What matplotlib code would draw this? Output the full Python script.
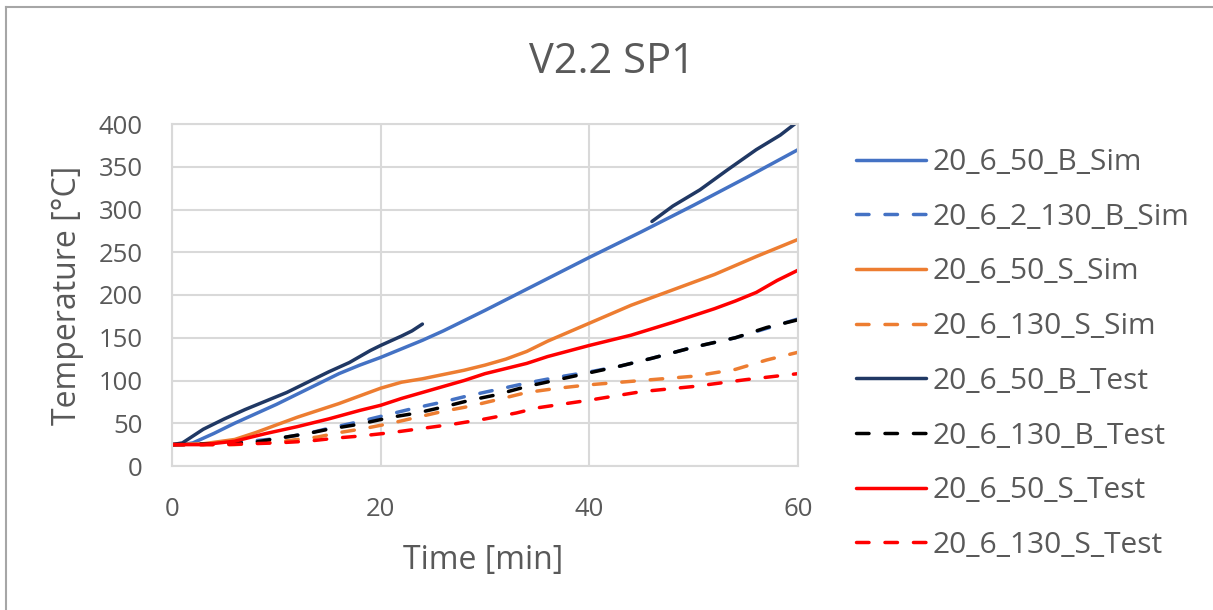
import numpy as np
import matplotlib
matplotlib.use("Agg")
import matplotlib.pyplot as plt
from matplotlib.lines import Line2D

plt.rcParams["font.family"] = ["Open Sans", "DejaVu Sans"]

# ---- data: time [min] and temperature [°C] per series ----
t_b50_sim = [0, 1, 2, 4, 6, 8, 10, 12, 14, 16, 18, 20, 22, 24, 26, 28, 30, 35, 40, 45, 50, 55, 60]
T_b50_sim = [25, 25, 27, 38, 50, 61, 72, 84, 96, 108, 118, 127, 137, 147, 158, 170, 182, 213, 244, 274, 305, 337, 370]

t_b130_sim = [0, 5, 10, 13, 15, 18, 20, 23, 26, 28, 31, 34, 37, 40, 43, 46, 50, 54, 57, 60]
T_b130_sim = [25, 26, 32, 38, 44, 52, 58, 67, 75, 81, 89, 97, 104, 110, 117, 126, 139, 150, 161, 172]

t_s50_sim = [0, 3, 6, 8, 10, 12, 14, 16, 18, 20, 22, 24, 26, 28, 30, 32, 34, 36, 40, 44, 48, 52, 56, 60]
T_s50_sim = [25, 26, 31, 39, 48, 57, 65, 73, 82, 91, 98, 102, 107, 112, 118, 125, 134, 146, 167, 188, 206, 224, 245, 265]

t_s130_sim = [0, 6, 10, 14, 16, 18.5, 21, 23.5, 26, 28.6, 31, 34, 37, 40, 45, 50, 54, 57, 60]
T_s130_sim = [25, 25, 28, 34, 39, 44, 50, 57, 64, 70, 77, 86, 91, 95, 100, 105, 113, 124, 133]

# test curve is recorded in two pieces; NaN marks the gap
t_b50_test = [0, 1, 2, 3, 5, 7, 9, 11, 13, 15, 17, 19, 20, 22, 23, 24,
              np.nan, 46, 48, 50.6, 53.2, 56, 58.3, 60]
T_b50_test = [25, 27, 35, 43, 55, 66, 76, 86, 98, 110, 121, 135, 141, 152, 158, 166,
              np.nan, 286, 304, 323, 346, 370, 387, 403]

t_b130_test = [0, 5, 8, 10, 13, 15, 18, 21, 23.5, 26, 28.6, 31, 34, 37, 40, 43, 46, 50, 54, 57, 60]
T_b130_test = [25, 26, 28, 32, 38, 43, 49, 57, 62, 69, 77, 83, 93, 101, 109, 117, 126, 139, 150, 162, 171]

t_s50_test = [0, 3, 6, 9, 12, 15, 18, 20, 22, 24, 26, 28, 30, 32, 34, 36, 40, 44, 48, 52, 54, 56, 58, 60]
T_s50_test = [25, 25, 29, 38, 46, 55, 65, 71, 79, 86, 93, 100, 108, 114, 120, 128, 141, 153, 168, 184, 193, 203, 217, 229]

t_s130_test = [0, 5, 10, 13, 16, 18, 21, 24, 27, 30, 33, 35, 40, 45, 50, 55, 60]
T_s130_test = [25, 25, 27, 29, 33, 35, 39, 44, 49, 55, 62, 68, 77, 87, 93, 101, 108]

labels = ["20_6_50_B_Sim", "20_6_2_130_B_Sim", "20_6_50_S_Sim", "20_6_130_S_Sim",
          "20_6_50_B_Test", "20_6_130_B_Test", "20_6_50_S_Test", "20_6_130_S_Test"]
x_ticks = [0, 20, 40, 60]
y_ticks = [0, 50, 100, 150, 200, 250, 300, 350, 400]

series = [
    (t_b50_sim, T_b50_sim, "#4472C4", "-"),
    (t_b130_sim, T_b130_sim, "#4472C4", "--"),
    (t_s50_sim, T_s50_sim, "#ED7D31", "-"),
    (t_s130_sim, T_s130_sim, "#ED7D31", "--"),
    (t_b50_test, T_b50_test, "#203864", "-"),
    (t_b130_test, T_b130_test, "#000000", "--"),
    (t_s50_test, T_s50_test, "#FF0000", "-"),
    (t_s130_test, T_s130_test, "#FF0000", "--"),
]

TXT = "#595959"
GRID = "#D9D9D9"

fig = plt.figure(figsize=(12.13, 6.10), dpi=100)
ax = fig.add_axes([172 / 1213, 1 - 466 / 610, 626 / 1213, 342 / 610])

for (tx, ty, col, ls), lab in zip(series, labels):
    kw = dict(color=col, lw=2.5, label=lab, solid_capstyle="round")
    if ls == "--":
        kw.update(dashes=(3.6, 4.6), dash_capstyle="round")
    ax.plot(tx, ty, **kw)

ax.set_xlim(0, 60)
ax.set_ylim(0, 400)
ax.set_xticks(x_ticks)
ax.set_yticks(y_ticks)
ax.grid(True, color=GRID, lw=1.5)
ax.set_axisbelow(True)
for s in ax.spines.values():
    s.set_color(GRID)
    s.set_linewidth(1.5)
ax.tick_params(length=0, labelsize=18.5, labelcolor=TXT)
ax.tick_params(axis="x", pad=22)
ax.tick_params(axis="y", pad=21)

fig.text(612 / 1213, 1 - 73 / 610, "V2.2 SP1", fontsize=30, color=TXT,
         ha="center", va="baseline")
fig.text(483 / 1213, 1 - 560 / 610, "Time [min]", fontsize=23, color=TXT,
         ha="center", va="center")
fig.text(67 / 1213, 1 - 295 / 610, "Temperature [°C]", fontsize=23, color=TXT,
         ha="center", va="center", rotation=90)

fig.legend(loc="center left", bbox_to_anchor=(856 / 1213, 1 - 354 / 610),
           frameon=False, fontsize=21.5, labelcolor=TXT, handlelength=2.34,
           handletextpad=0.22, labelspacing=0.86, borderpad=0, borderaxespad=0)

# chart outline (left and top edges)
fig.add_artist(Line2D([6 / 1213, 6 / 1213], [0, 1 - 7 / 610], color="#A6A6A6", lw=1.5))
fig.add_artist(Line2D([6 / 1213, 1], [1 - 7 / 610, 1 - 7 / 610], color="#A6A6A6", lw=1.5))

fig.savefig("out.png", dpi=100)
